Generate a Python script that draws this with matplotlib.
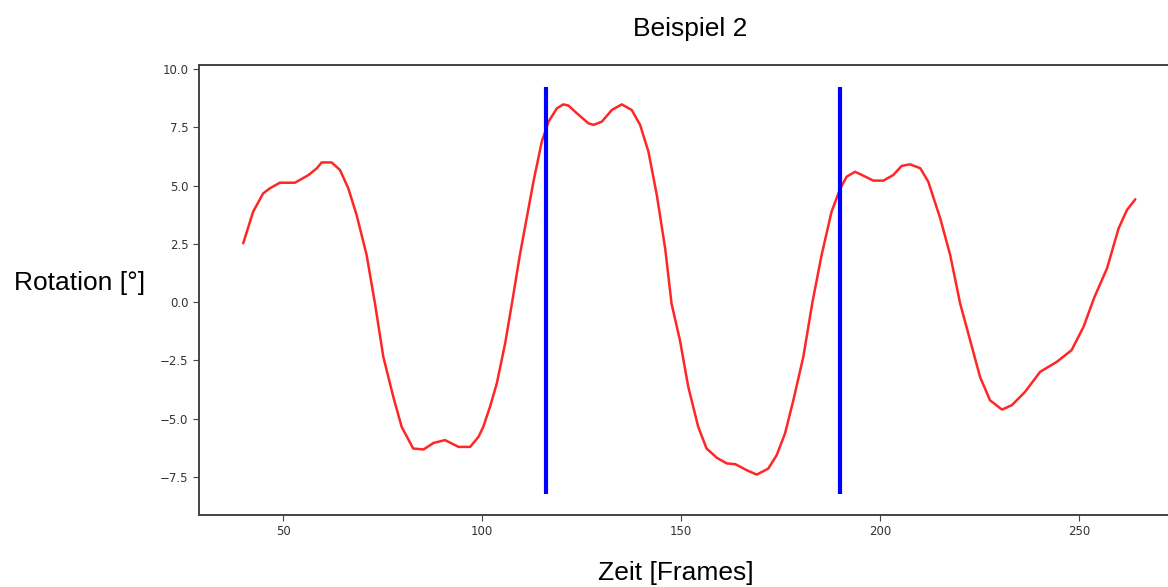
import matplotlib
matplotlib.use("Agg")
import matplotlib.pyplot as plt

# Rotation over time
frames = [40.0, 42.5, 45.0, 46.7, 49.2, 53.0, 56.4, 58.5, 59.7, 62.2, 64.3, 66.4,
          68.5, 71.0, 73.1, 75.2, 77.7, 79.8, 82.7, 85.3, 87.8, 90.7, 94.1, 97.0,
          99.1, 100.3, 102.0, 103.7, 105.8, 107.5, 109.5, 112.9, 115.0, 116.7,
          118.8, 120.4, 121.7, 123.8, 126.7, 128.0, 130.1, 132.6, 135.1, 137.6,
          139.7, 141.8, 143.9, 146.0, 147.6, 149.7, 151.8, 154.3, 156.4, 159.0,
          161.5, 163.6, 166.5, 169.0, 171.9, 174.0, 176.1, 178.2, 180.7, 183.0,
          185.3, 187.8, 190.0, 191.6, 193.7, 195.8, 198.3, 200.8, 203.3, 205.4,
          207.5, 210.1, 212.1, 215.1, 217.6, 220.1, 222.6, 225.1, 227.6, 230.6,
          233.1, 236.4, 240.2, 244.4, 248.1, 251.1, 253.8, 257.0, 259.9, 262.0,
          264.1]
rotation = [2.52, 3.88, 4.66, 4.88, 5.12, 5.12, 5.45, 5.74, 5.99, 5.99, 5.67, 4.88,
            3.73, 2.02, -0.06, -2.35, -4.06, -5.35, -6.28, -6.32, -6.04, -5.92,
            -6.21, -6.21, -5.78, -5.35, -4.49, -3.49, -1.77, -0.06, 2.02, 5.16,
            6.88, 7.74, 8.31, 8.48, 8.43, 8.10, 7.67, 7.60, 7.74, 8.24, 8.48, 8.24,
            7.60, 6.45, 4.59, 2.30, -0.06, -1.63, -3.63, -5.35, -6.28, -6.68,
            -6.92, -6.95, -7.21, -7.40, -7.14, -6.57, -5.64, -4.21, -2.35, 0.0,
            2.02, 3.88, 4.88, 5.38, 5.59, 5.42, 5.21, 5.21, 5.45, 5.84, 5.91, 5.74,
            5.16, 3.59, 2.02, -0.06, -1.63, -3.21, -4.21, -4.61, -4.42, -3.85,
            -2.99, -2.56, -2.06, -1.06, 0.2, 1.45, 3.16, 3.95, 4.41]

# vertical markers
marker_frames = [116.1, 190.0]
marker_low = -8.23
marker_high = 9.24

fig = plt.figure(figsize=(11.68, 5.87), dpi=100)
ax = fig.add_axes([0.1704, 0.1227, 0.835, 0.7666])

ax.plot(frames, rotation, color='red', linewidth=1.8, alpha=0.85,
        solid_joinstyle='round', solid_capstyle='round')
ax.vlines(marker_frames, marker_low, marker_high, color='blue', linewidth=3)

ax.set_xlim(28.9, 273.9)
ax.set_ylim(-9.13, 10.17)
ax.set_xticks([50, 100, 150, 200, 250])
ax.set_yticks([-7.5, -5.0, -2.5, 0.0, 2.5, 5.0, 7.5, 10.0])
ax.set_yticklabels(['\u22127.5', '\u22125.0', '\u22122.5', '0.0', '2.5', '5.0', '7.5', '10.0'])

for s in ax.spines.values():
    s.set_color('#444444')
    s.set_linewidth(1.4)
ax.tick_params(labelsize=8.5, labelcolor='#333333', color='#444444', length=4)

label_font = {'family': 'Liberation Sans', 'size': 19, 'color': 'black'}
fig.text(0.591, 0.950, 'Beispiel 2', ha='center', va='center', **label_font)
fig.text(0.068, 0.518, 'Rotation [\u00b0]', ha='center', va='center', **label_font)
fig.text(0.579, 0.023, 'Zeit [Frames]', ha='center', va='center', **label_font)

fig.savefig('out.png', dpi=100)
